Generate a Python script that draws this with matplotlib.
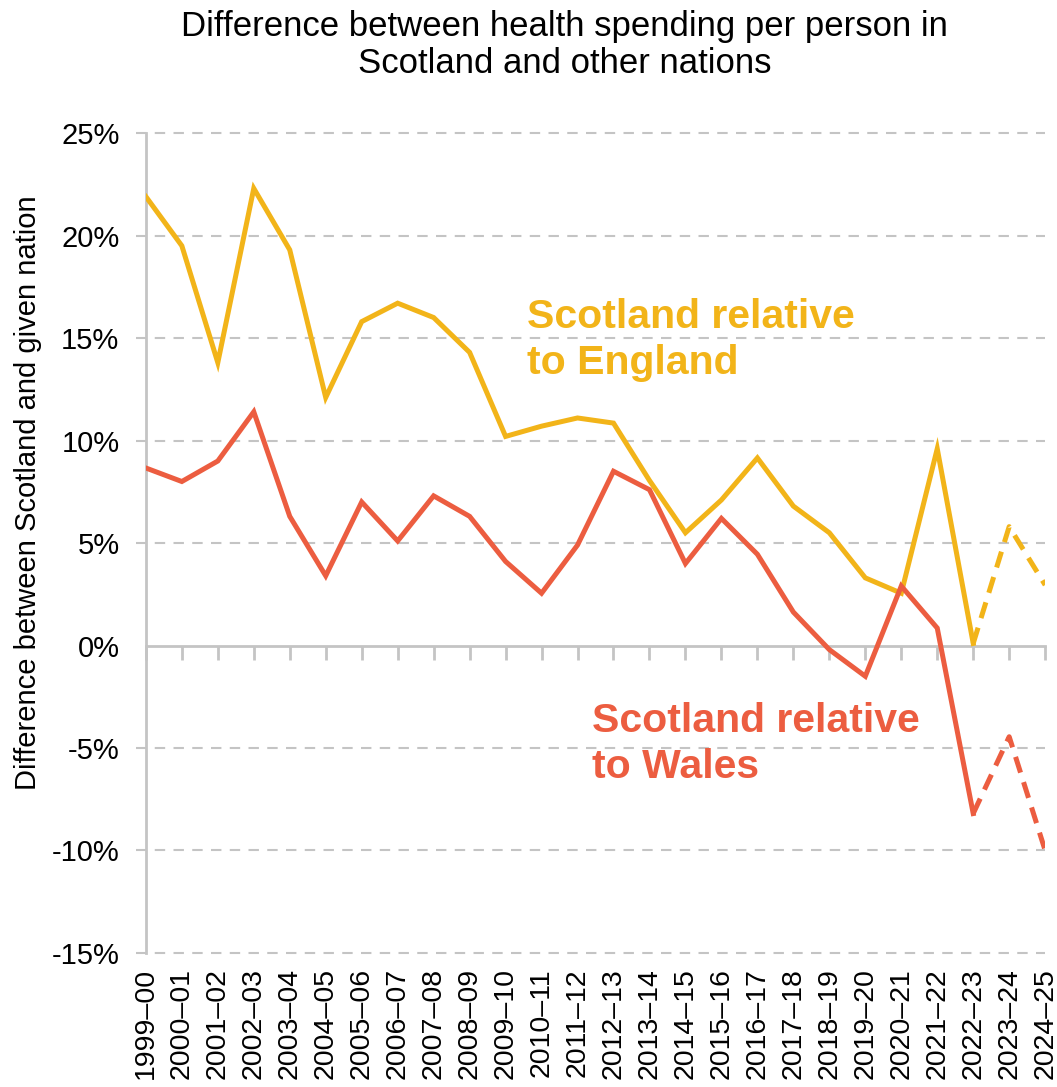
import matplotlib.pyplot as plt
import numpy as np

plt.rcParams['font.family'] = ['Liberation Sans', 'DejaVu Sans']

years = ["1999–00", "2000–01", "2001–02", "2002–03", "2003–04", "2004–05",
         "2005–06", "2006–07", "2007–08", "2008–09", "2009–10", "2010–11",
         "2011–12", "2012–13", "2013–14", "2014–15", "2015–16", "2016–17",
         "2017–18", "2018–19", "2019–20", "2020–21", "2021–22", "2022–23",
         "2023–24", "2024–25"]

# percent difference, Scotland vs England
england = [21.9, 19.5, 13.8, 22.3, 19.3, 12.1, 15.8, 16.7, 16.0, 14.3,
           10.2, 10.7, 11.1, 10.85, 8.05, 5.5, 7.1, 9.15, 6.8, 5.5,
           3.3, 2.55, 9.6, 0.1, 5.8, 2.95]
# percent difference, Scotland vs Wales
wales = [8.66, 8.0, 9.0, 11.4, 6.3, 3.4, 7.0, 5.1, 7.3, 6.3,
         4.1, 2.55, 4.9, 8.5, 7.6, 4.0, 6.2, 4.45, 1.63, -0.2,
         -1.5, 2.9, 0.85, -8.2, -4.45, -10.0]
# index where the projected (dashed) part starts
proj_start = 23

c_eng = "#F2B419"
c_wal = "#EC5D40"
grid_c = "#C4C4C4"

x = np.arange(len(years))

fig = plt.figure(figsize=(10.57, 10.87), dpi=100)
ax = fig.add_axes([0.138, 0.1233, 0.8508, 0.7543])

lw = 3.6
for vals, col in [(england, c_eng), (wales, c_wal)]:
    ax.plot(x[:proj_start + 1], vals[:proj_start + 1], color=col, lw=lw,
            solid_joinstyle='miter', zorder=3)
    ax.plot(x[proj_start:], vals[proj_start:], color=col, lw=lw,
            linestyle=(0, (3.3, 2.0)), zorder=3)

ax.set_xlim(0, len(years) - 1)
ax.set_ylim(-15, 25)
ax.set_yticks(np.arange(-15, 26, 5))
ax.set_yticklabels([f"{v}%" for v in range(-15, 26, 5)], fontsize=21)

for v in range(-15, 26, 5):
    if v != 0:
        ax.axhline(v, color=grid_c, lw=1.5, linestyle=(0, (5, 4)), zorder=1,
                   xmin=-0.011, clip_on=False)

for s in ['top', 'right']:
    ax.spines[s].set_visible(False)
ax.spines['left'].set_color(grid_c)
ax.spines['left'].set_linewidth(2)
ax.spines['bottom'].set_position(('data', 0))
ax.spines['bottom'].set_color(grid_c)
ax.spines['bottom'].set_linewidth(2)
ax.tick_params(axis='y', length=0, pad=19, color=grid_c)
ax.set_xticks(x)
ax.tick_params(axis='x', length=10, width=2, color=grid_c, labelbottom=False)

sec = ax.secondary_xaxis(0.0)
sec.set_xticks(x)
sec.set_xticklabels(years, rotation=90, fontsize=20.5)
sec.tick_params(length=0, pad=11)
sec.spines['bottom'].set_visible(False)

ax.set_ylabel("Difference between Scotland and given nation", fontsize=21)
ax.yaxis.set_label_coords(-0.116, (953 - 492.5) / 820)

fig.text(0.534, 0.9585, "Difference between health spending per person in\nScotland and other nations",
         ha='center', va='center', fontsize=25, linespacing=1.18)

ax.text(10.6, 14.9, "Scotland relative\nto England", color=c_eng,
        fontsize=29.5, fontweight='bold', va='center', ha='left', linespacing=1.25)
ax.text(12.4, -4.8, "Scotland relative\nto Wales", color=c_wal,
        fontsize=29.5, fontweight='bold', va='center', ha='left', linespacing=1.25)

fig.savefig("out.png", dpi=100)
